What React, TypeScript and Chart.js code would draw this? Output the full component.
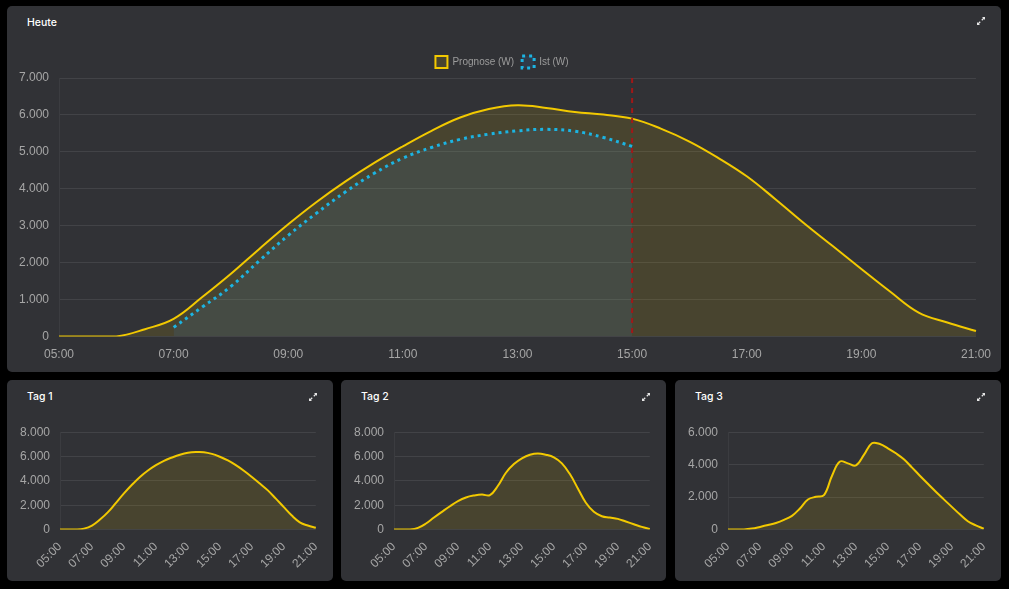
import React, { useEffect, useRef } from 'react';
import { Chart, registerables } from 'chart.js';

Chart.register(...registerables);

// ---------- DATA ----------
const TIME_LABELS: string[] = [
  '05:00', '05:30', '06:00', '06:30', '07:00', '07:30', '08:00', '08:30',
  '09:00', '09:30', '10:00', '10:30', '11:00', '11:30', '12:00', '12:30',
  '13:00', '13:30', '14:00', '14:30', '15:00', '15:30', '16:00', '16:30',
  '17:00', '17:30', '18:00', '18:30', '19:00', '19:30', '20:00', '20:30',
  '21:00',
];

const NOW_LABEL = '15:00';

const HEUTE_PROGNOSE: number[] = [
  0, 0, 0, 200, 480, 1070, 1700, 2380, 3040, 3650, 4200, 4700, 5150, 5570,
  5930, 6160, 6260, 6190, 6080, 6010, 5900, 5630, 5280, 4840, 4340, 3720,
  3070, 2450, 1830, 1220, 650, 380, 150,
];

const HEUTE_IST: (number | null)[] = [
  null, null, null, null, 250, 800, 1360, 2060, 2740, 3350, 3920, 4420, 4830,
  5120, 5340, 5480, 5570, 5610, 5560, 5390, 5150, null, null, null, null,
  null, null, null, null, null, null, null, null,
];

const TAG1: number[] = [
  0, 0, 0, 80, 330, 820, 1430, 2200, 2970, 3680, 4320, 4850, 5290, 5650,
  5920, 6150, 6310, 6370, 6360, 6220, 5980, 5680, 5290, 4830, 4320, 3780,
  3220, 2540, 1840, 1150, 600, 330, 150,
];

const TAG2: number[] = [
  0, 0, 0, 140, 500, 990, 1460, 1920, 2340, 2640, 2800, 2880, 2830, 3600,
  4670, 5380, 5850, 6150, 6260, 6150, 5930, 5440, 4560, 3380, 2200, 1460,
  1100, 990, 880, 660, 440, 220, 55,
];

const TAG3: number[] = [
  0, 0, 0, 60, 165, 280, 410, 600, 845, 1300, 1850, 2020, 2120, 3300, 4190,
  4080, 3950, 4600, 5320, 5270, 5010, 4700, 4330, 3830, 3320, 2820, 2330,
  1860, 1400, 940, 515, 260, 60,
];

const Y_MAX_HEUTE = 7000;
const Y_STEP_HEUTE = 1000;
const Y_MAX_TAG: number[] = [8000, 8000, 6000];
const Y_STEP_TAG = 2000;

// ---------- STYLE ----------
const CARD_BG = '#313236';
const YELLOW = '#f2c900';
const YELLOW_FILL = 'rgba(255,215,0,0.115)';
const CYAN = '#1cb4e2';
const CYAN_FILL = 'rgba(40,150,250,0.1)';
const TICK_COLOR = '#a6a6a6';
const GRID_COLOR = 'rgba(255,255,255,0.085)';
const TICK_FONT = { family: '"Liberation Sans", Arial, sans-serif', size: 12 };

const fmt = (v: number | string) =>
  String(v).replace(/\B(?=(\d{3})+(?!\d))/g, '.');

const nowLinePlugin = {
  id: 'nowLine',
  afterDatasetsDraw(chart: any) {
    const idx = TIME_LABELS.indexOf(NOW_LABEL);
    if (idx < 0) return;
    const x = chart.scales.x.getPixelForValue(idx);
    const { top, bottom } = chart.chartArea;
    const ctx = chart.ctx;
    ctx.save();
    ctx.beginPath();
    ctx.setLineDash([5, 5]);
    ctx.lineWidth = 2;
    ctx.strokeStyle = 'rgba(168,22,22,0.95)';
    ctx.moveTo(x, top);
    ctx.lineTo(x, bottom);
    ctx.stroke();
    ctx.restore();
  },
};

function baseScales(yMax: number, yStep: number, rotate: boolean) {
  return {
    x: {
      grid: { display: false },
      border: { display: false },
      ticks: {
        color: TICK_COLOR,
        font: TICK_FONT,
        autoSkip: false,
        maxRotation: rotate ? 45 : 0,
        minRotation: rotate ? 45 : 0,
        padding: rotate ? 2 : 3,
        callback: function (this: any, value: any, index: number) {
          return index % 4 === 0 ? this.getLabelForValue(value) : '';
        },
      },
    },
    y: {
      min: 0,
      max: yMax,
      afterFit: (scale: any) => {
        scale.width = 49;
      },
      grid: { color: GRID_COLOR, drawTicks: false },
      border: { display: true, color: 'rgba(255,255,255,0.05)' },
      ticks: {
        stepSize: yStep,
        color: TICK_COLOR,
        font: TICK_FONT,
        padding: 10,
        callback: (v: any) => fmt(v),
      },
    },
  };
}

function heuteConfig(): any {
  return {
    type: 'line',
    data: {
      labels: TIME_LABELS,
      datasets: [
        {
          label: 'Prognose (W)',
          data: HEUTE_PROGNOSE,
          borderColor: YELLOW,
          backgroundColor: YELLOW_FILL,
          borderWidth: 2,
          fill: 'origin',
          pointRadius: 0,
          tension: 0.4,
          order: 1,
        },
        {
          label: 'Ist (W)',
          data: HEUTE_IST,
          borderColor: CYAN,
          backgroundColor: CYAN_FILL,
          borderWidth: 3,
          borderDash: [3, 4],
          fill: 'origin',
          pointRadius: 0,
          tension: 0.4,
          order: 0,
        },
      ],
    },
    options: {
      animation: false,
      responsive: true,
      maintainAspectRatio: false,
      layout: { padding: 0 },
      plugins: {
        legend: {
          display: true,
          labels: {
            color: '#9c9c9c',
            boxWidth: 12,
            boxHeight: 12,
            padding: 8,
            font: { family: '"Liberation Sans", Arial, sans-serif', size: 10 },
            sort: (a: any, b: any) => a.datasetIndex - b.datasetIndex,
          },
        },
        tooltip: { enabled: false },
      },
      scales: baseScales(Y_MAX_HEUTE, Y_STEP_HEUTE, false),
    },
    plugins: [nowLinePlugin],
  };
}

function tagConfig(values: number[], yMax: number): any {
  return {
    type: 'line',
    data: {
      labels: TIME_LABELS,
      datasets: [
        {
          label: 'Prognose (W)',
          data: values,
          borderColor: YELLOW,
          backgroundColor: YELLOW_FILL,
          borderWidth: 2,
          fill: 'origin',
          pointRadius: 0,
          tension: 0.4,
        },
      ],
    },
    options: {
      animation: false,
      responsive: true,
      maintainAspectRatio: false,
      layout: { padding: 0 },
      plugins: { legend: { display: false }, tooltip: { enabled: false } },
      scales: baseScales(yMax, Y_STEP_TAG, true),
    },
  };
}

function ChartBox({ make, style }: { make: () => any; style: React.CSSProperties }) {
  const ref = useRef<HTMLCanvasElement>(null);
  useEffect(() => {
    const chart = new Chart(ref.current as HTMLCanvasElement, make());
    return () => chart.destroy();
  }, []);
  return (
    <div style={{ position: 'absolute', ...style }}>
      <canvas ref={ref} />
    </div>
  );
}

function ExpandIcon({ style }: { style: React.CSSProperties }) {
  return (
    <svg
      width="10"
      height="10"
      viewBox="0 0 10 10"
      style={{ position: 'absolute', ...style }}
    >
      <path d="M5.8 4.2 L8.6 1.4" stroke="#e6e6e6" strokeWidth="1.3" />
      <path d="M6 1 L9 1 L9 4 Z" fill="#e6e6e6" />
      <path d="M4.2 5.8 L1.4 8.6" stroke="#e6e6e6" strokeWidth="1.3" />
      <path d="M1 6 L1 9 L4 9 Z" fill="#e6e6e6" />
    </svg>
  );
}

function Card({
  left, top, width, height, title, titleTop, iconTop, children,
}: {
  left: number; top: number; width: number; height: number; title: string;
  titleTop: number; iconTop: number; children?: React.ReactNode;
}) {
  return (
    <div
      style={{
        position: 'absolute', left, top, width, height,
        background: CARD_BG, borderRadius: 5, overflow: 'hidden',
      }}
    >
      <div
        style={{
          position: 'absolute', left: 20, top: titleTop, color: '#ffffff',
          fontFamily: 'Inter, "Noto Sans", sans-serif', fontWeight: 500,
          fontSize: 10.5, lineHeight: '12px', whiteSpace: 'nowrap',
        }}
      >
        {title}
      </div>
      <ExpandIcon style={{ left: width - 25, top: iconTop }} />
      {children}
    </div>
  );
}

const TAG_TITLES = ['Tag 1', 'Tag 2', 'Tag 3'];
const TAG_VALUES = [TAG1, TAG2, TAG3];
const TAG_LEFTS = [7, 341, 675];

export default function App() {
  return (
    <div
      style={{
        position: 'fixed', left: 0, top: 0, width: 1009, height: 589,
        background: '#000000', overflow: 'hidden',
      }}
    >
      <Card left={7} top={6} width={994} height={366} title="Heute" titleTop={11} iconTop={10}>
        <ChartBox make={heuteConfig} style={{ left: 3, top: 42, width: 984, height: 317 }} />
      </Card>
      {TAG_TITLES.map((t, i) => (
        <Card
          key={t}
          left={TAG_LEFTS[i]}
          top={380}
          width={i === 1 ? 325 : 326}
          height={201}
          title={t}
          titleTop={11}
          iconTop={12}
        >
          <ChartBox
            make={() => tagConfig(TAG_VALUES[i], Y_MAX_TAG[i])}
            style={{ left: 4, top: 35, width: 317, height: 158 }}
          />
        </Card>
      ))}
    </div>
  );
}
